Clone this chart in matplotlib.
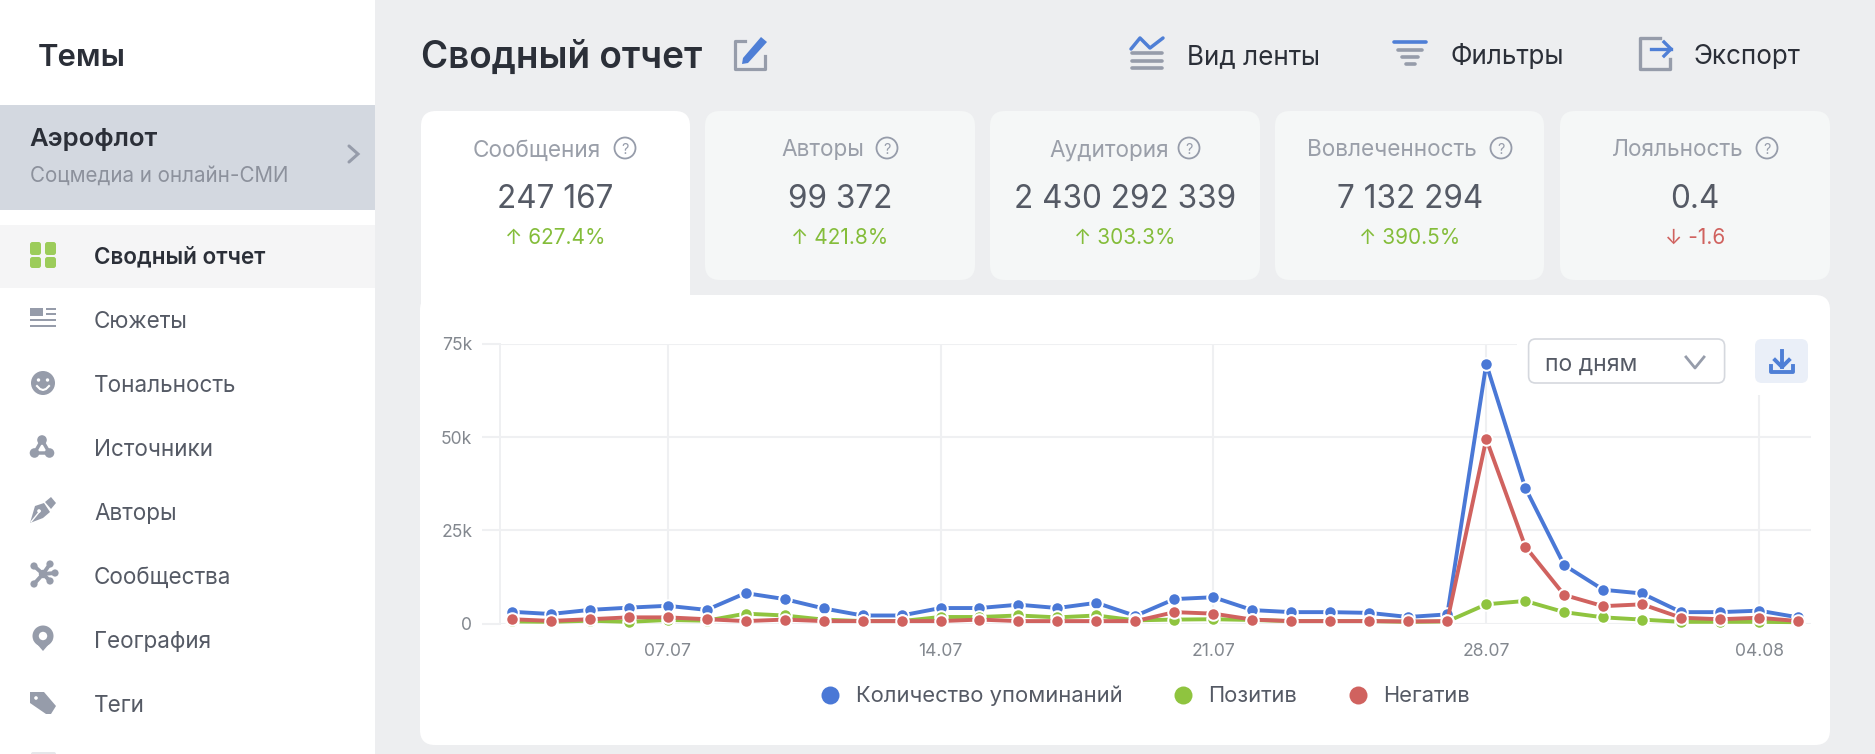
import matplotlib
matplotlib.use("Agg")
import matplotlib.pyplot as plt
from matplotlib.patches import FancyBboxPatch, Rectangle, Circle, Polygon
from matplotlib.lines import Line2D

W, H = 1875, 754
plt.rcParams['font.family'] = ['Inter', 'DejaVu Sans']

# ---- data ----
dates = ['03.07','04.07','05.07','06.07','07.07','08.07','09.07','10.07','11.07','12.07','13.07','14.07',
         '15.07','16.07','17.07','18.07','19.07','20.07','21.07','22.07','23.07','24.07','25.07','26.07',
         '27.07','28.07','29.07','30.07','31.07','01.08','02.08','03.08','04.08','05.08']
mentions = [3200,2600,3700,4300,4800,3700,8200,6600,4100,2200,2200,4200,4200,5100,4200,5600,2100,
            6600,7100,3650,3100,3100,2900,1800,2500,69650,36450,15700,9100,8100,3100,3100,3500,1700]
positive = [600,500,800,500,1000,800,2700,2200,1100,700,700,1800,1800,2200,1700,2200,900,
            1100,1200,1000,700,700,700,500,600,5200,6100,3100,1700,1100,500,500,500,400]
negative = [1200,750,1200,1700,1700,1200,700,1100,700,700,700,700,1100,700,700,700,700,
            3100,2700,1100,700,700,700,600,700,49500,20700,7700,4700,5200,1600,1200,1600,700]
series_names = ['Количество упоминаний', 'Позитив', 'Негатив']
series_colors = ['#4a78d6', '#8fc43f', '#d0625f']
y_ticks = [0, 25000, 50000, 75000]
y_tick_labels = ['0', '25k', '50k', '75k']
x_tick_labels = ['07.07', '14.07', '21.07', '28.07', '04.08']

nav_items = ['Сводный отчет','Сюжеты','Тональность','Источники','Авторы','Сообщества','География','Теги']
card_labels = ['Сообщения','Авторы','Аудитория','Вовлеченность','Лояльность']
card_values = ['247 167','99 372','2 430 292 339','7 132 294','0.4']
card_deltas = ['↑ 627.4%','↑ 421.8%','↑ 303.3%','↑ 390.5%','↓ -1.6']
header_actions = ['Вид ленты','Фильтры','Экспорт']

BG='#edeef0'; DARK='#2b2f38'; GRAY='#9a9fa9'; TXT='#555a65'; ICON='#969caa'; BLUE='#4f7fd6'
GREEN='#84bd3a'; RED='#d0625f'; GRID='#eff0f2'; TICK='#83888f'

fig = plt.figure(figsize=(W/100, H/100), dpi=100, facecolor=BG)

def px_axes(z):
    a = fig.add_axes([0,0,1,1], zorder=z)
    a.set_xlim(0,W); a.set_ylim(H,0); a.axis('off'); a.patch.set_alpha(0)
    return a
under = px_axes(0)
over = px_axes(2)

def rr(a, x0, y0, x1, y1, r, **kw):
    a.add_patch(FancyBboxPatch((x0+r,y0+r), x1-x0-2*r, y1-y0-2*r,
                boxstyle=f'round,pad={r},rounding_size={r}', linewidth=kw.pop('lw',0), **kw))

# ---- backgrounds ----
under.add_patch(Rectangle((0,0),375,H,fc='white',lw=0))
under.add_patch(Rectangle((0,105),375,105,fc='#d3d8e0',lw=0))
under.add_patch(Rectangle((0,225),375,63,fc='#f5f5f6',lw=0))
rr(under,420,295,1830,745,15,fc='white')
rr(under,421,111,690,330,15,fc='white')
for x0,x1 in [(705,975),(990,1260),(1275,1544),(1560,1830)]:
    rr(under,x0,111,x1,280,15,fc='#f5f7f7')

def t(x,y,s,size,color,weight='normal',ha='left',a=over):
    a.text(x,y,s,fontsize=size*0.72,color=color,fontweight=weight,ha=ha,va='center_baseline')

# ---- sidebar ----
t(38,55,'Темы',31,DARK,'semibold')
t(29,137,'Аэрофлот',25.7,DARK,'semibold')
t(30,174,'Соцмедиа и онлайн-СМИ',20.6,'#8c919c')
over.plot([349,358,349],[146,154,162],color=ICON,lw=2.2,solid_capstyle='round',solid_joinstyle='miter')
nav_y=[255,320,384,448,511,575,639,703]
for i,(name,y) in enumerate(zip(nav_items,nav_y)):
    t(94,y,name,22.5,DARK if i==0 else TXT,'semibold' if i==0 else 'normal')

for x0,x1 in [(30,41),(45,56)]:
    for y0,y1 in [(242,255),(257,268)]:
        rr(over,x0,y0,x1,y1,2.5,fc='#9ccc5a')
over.add_patch(Rectangle((30,308),13,8,fc=ICON,lw=0))
for y,x0 in [(309,46),(314,46),(320,30),(326,30)]:
    over.add_patch(Rectangle((x0,y-1.3),56-x0,2.6,fc=ICON,lw=0))
over.add_patch(Circle((43,383),12,fc=ICON,lw=0))
over.add_patch(Circle((38.5,380),1.7,fc='white',lw=0)); over.add_patch(Circle((47.5,380),1.7,fc='white',lw=0))
over.plot([37,40,43,46,49],[386,389,390,389,386],color='white',lw=1.5)
over.plot([42,34.5,49.5,42],[440,453,453,440],color=ICON,lw=2.5)
for c,r in [((42,440),4.8),((34.5,453),4.8),((49.5,453),4.8)]:
    over.add_patch(Circle(c,r,fc=ICON,lw=0))
over.add_patch(Polygon([[30,523],[35,506],[44,503],[50,512],[43,518]],fc=ICON,lw=0))
over.add_patch(Polygon([[45,502],[51,497],[56,503],[51,509]],fc=ICON,lw=0))
over.plot([31,40],[522,511],color='white',lw=1)
over.add_patch(Circle((39,511),1.8,fc='white',lw=0))
for c in [(34,566),(50,564),(34,584),(50,581),(55,573)]:
    over.plot([43,c[0]],[574,c[1]],color=ICON,lw=2.8)
    over.add_patch(Circle(c,3.6,fc=ICON,lw=0))
over.add_patch(Circle((43,574),4.2,fc=ICON,lw=0))
over.add_patch(Circle((43,636),10.5,fc=ICON,lw=0))
over.add_patch(Polygon([[33.5,640],[52.5,640],[43,651]],fc=ICON,lw=0))
over.add_patch(Circle((43,636),4.2,fc='white',lw=0))
over.add_patch(Polygon([[30,692],[30,703],[46,714],[51,714],[56,706],[44,692]],fc=ICON,lw=0))
over.add_patch(Circle((36,698),1.8,fc='white',lw=0))
rr(over,31,752,56,762,2,fc='#e6e7ea')

# ---- header ----
t(421,54,'Сводный отчет',36.9,DARK,'semibold')
for x,s in zip([1187,1450,1694],header_actions):
    t(x,54,s,26,DARK)
over.plot([745,735,735,765,765],[41,41,69,69,56],color=ICON,lw=2.3,solid_joinstyle='round')
over.add_patch(Polygon([[743,58],[761,37],[767,42],[748,63],[742,64]],fc=BLUE,lw=0))
over.plot([1131,1140,1150,1163],[49,38,48,38],color=BLUE,lw=2.5,solid_capstyle='round')
for y in [53,61,68]:
    over.plot([1132,1162],[y,y],color=ICON,lw=2.6,solid_capstyle='round')
over.plot([1394,1426],[42,42],color=BLUE,lw=2.6,solid_capstyle='round')
for y,(a_,b_) in zip([50,57,64],[(1398,1422),(1402,1418),(1406,1415)]):
    over.plot([a_,b_],[y,y],color=ICON,lw=2.6,solid_capstyle='round')
over.plot([1660,1640,1640,1670,1670],[38,38,69,69,59],color=ICON,lw=2.4,solid_joinstyle='round')
over.plot([1651,1671],[49,49],color=BLUE,lw=2.4)
over.plot([1664,1671,1664],[42,49,56],color=BLUE,lw=2.4)

# ---- cards ----
label_x=[(473,625),(781,887),(1049,1189),(1307,1501),(1612,1767)]
val_x=[555.5,840,1125,1410,1695]
for (lab,q),cx,l,v,d in zip(label_x,val_x,card_labels,card_values,card_deltas):
    t(lab,148,l,22.6,GRAY)
    over.add_patch(Circle((q,148),10.5,fc='none',ec=ICON,lw=1.3))
    t(q,148,'?',14.5,ICON,ha='center')
    t(cx,196,v,31.5,TXT,ha='center')
    t(cx,236,d,20.8,RED if '-' in d else GREEN,ha='center')

# ---- chart ----
L,R,T,B = 500,1811,344,623.7
ax = fig.add_axes([L/W,1-B/H,(R-L)/W,(B-T)/H],zorder=1)
ax.patch.set_alpha(0)
x = list(range(len(dates)))
for vals,c,name in zip([mentions,positive,negative],series_colors,series_names):
    ax.plot(x,vals,color=c,lw=3.9*0.72,marker='o',ms=12.5*0.72,mec='white',mew=2*0.72,clip_on=False,label=name,zorder=3)
ax.set_xlim(-0.30,33.33)
ax.set_ylim(0,75000)
ax.set_yticks(y_ticks); ax.set_yticklabels(y_tick_labels)
ax.set_xticks([dates.index(s) for s in x_tick_labels]); ax.set_xticklabels(x_tick_labels)
for s in ax.spines.values(): s.set_visible(False)
ax.spines['left'].set_visible(True); ax.spines['left'].set_color(GRID); ax.spines['left'].set_linewidth(1.4)
ax.grid(True,color=GRID,lw=1.5,zorder=0)
ax.set_axisbelow(True)
ax.tick_params(axis='y',length=13,width=1.5,color=GRID,labelcolor=TICK,labelsize=12.6,pad=7)
ax.tick_params(axis='x',length=0,labelcolor=TICK,labelsize=12.6,pad=14)

# ---- legend ----
handles=[Line2D([],[],ls='',marker='o',ms=18*0.72,mfc=c,mec=c,mew=0) for c in series_colors]
ax.legend(handles,series_names,loc='center',bbox_to_anchor=((1144.5-L)/(R-L),(B-696)/(B-T)),ncol=3,frameon=False,
          handlelength=1.0,handletextpad=0.67,columnspacing=2.25,fontsize=15.8,labelcolor=TXT)

# ---- controls over the chart ----
over.add_patch(Rectangle((1517,330),300,65,fc='white',lw=0))
rr(over,1528.6,339,1724.6,383,7,fc='white',ec='#d5d8de',lw=1.2)
t(1545,362.5,'по дням',23,TXT)
over.plot([1686,1695,1704],[357,368,357],color=ICON,lw=2)
rr(over,1755,339,1808,383,7,fc='#eaeff8')
over.plot([1782,1782],[351,367],color=BLUE,lw=2.8)
over.plot([1775,1782,1789],[360,367,360],color=BLUE,lw=2.8)
over.plot([1771,1771,1793,1793],[366,372,372,366],color=BLUE,lw=2.8,solid_joinstyle='round')

fig.savefig('out.png',dpi=100,facecolor=BG)
